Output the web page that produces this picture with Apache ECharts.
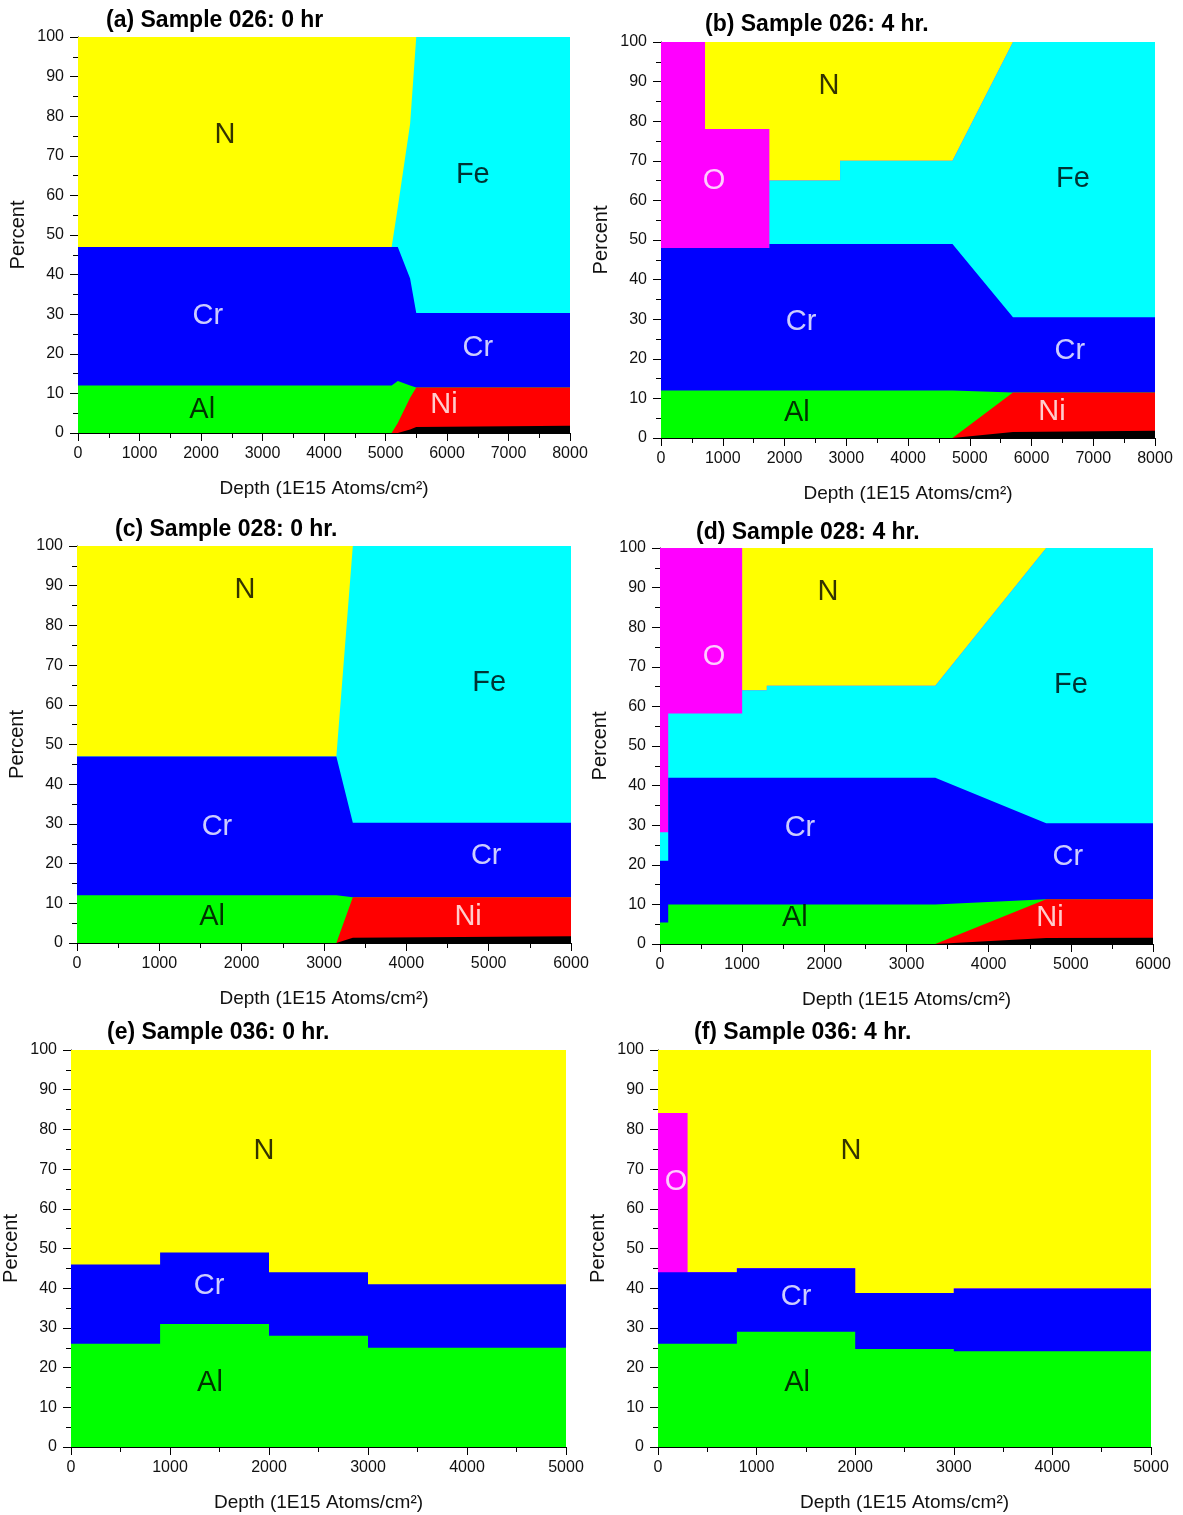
<!DOCTYPE html>
<html><head><meta charset="utf-8">
<script src="https://cdn.jsdelivr.net/npm/echarts@6/dist/echarts.min.js"></script>
<style>html,body{margin:0;padding:0;background:#fff}#c{width:1183px;height:1515px}</style>
</head><body><div id="c"></div>
<script>
// Elements, bottom to top of the stack
const elements = ['Other', 'Ni', 'Al', 'Cr', 'Fe', 'O', 'N'];
const colors = {Other:'#000000', Ni:'#ff0000', Al:'#00ff00', Cr:'#0000ff', Fe:'#00ffff', O:'#ff00ff', N:'#ffff00'};

// (a) Sample 026: 0 hr
const depthA = [0, 5100, 5200, 5400, 5500, 8000];
const otherA = [0, 0, 0, 0.9, 1.5, 1.8];
const niA    = [0, 0, 2.5, 8.0, 10.0, 9.7];
const alA    = [12, 12, 10.6, 3.1, 0, 0];
const crA    = [35, 35, 33.9, 27, 18.8, 18.8];
const feA    = [0, 0, 10, 39, 69.7, 69.7];
const nA     = [53, 53, 43, 22, 0, 0];

// (b) Sample 026: 4 hr.
const depthB = [0, 713, 713, 1755, 1755, 2900, 2900, 4720, 5700, 8000];
const otherB = [0, 0, 0, 0, 0, 0, 0, 0, 1.5, 1.8];
const niB    = [0, 0, 0, 0, 0, 0, 0, 0, 10, 9.7];
const alB    = [12, 12, 12, 12, 12, 12, 12, 12, 0, 0];
const crB    = [36, 36, 36, 36, 37, 37, 37, 37, 19, 19];
const feB    = [0, 0, 0, 0, 16, 16, 21, 21, 69.5, 69.5];
const oB     = [52, 52, 30, 30, 0, 0, 0, 0, 0, 0];
const nB     = [0, 0, 22, 22, 35, 35, 30, 30, 0, 0];

// (c) Sample 028: 0 hr.
const depthC = [0, 3150, 3350, 6000];
const otherC = [0, 0, 1.3, 1.7];
const niC    = [0, 0, 10.2, 9.8];
const alC    = [12, 12, 0, 0];
const crC    = [35, 35, 18.8, 18.8];
const feC    = [0, 0, 69.7, 69.7];
const nC     = [53, 53, 0, 0];

// (d) Sample 028: 4 hr.
const depthD = [0, 100, 100, 1000, 1000, 1300, 1300, 3350, 4700, 6000];
const otherD = [0, 0, 0, 0, 0, 0, 0, 0, 1.5, 1.6];
const niD    = [0, 0, 0, 0, 0, 0, 0, 0, 9.8, 9.7];
const alD    = [5.4, 5.4, 10, 10, 10, 10, 10, 10, 0, 0];
const crD    = [15.6, 15.6, 32, 32, 32, 32, 32, 32, 19.2, 19.2];
const feD    = [7.2, 7.2, 16.2, 16.2, 22.1, 22.1, 23.2, 23.2, 69.5, 69.5];
const oD     = [71.8, 71.8, 41.8, 41.8, 0, 0, 0, 0, 0, 0];
const nD     = [0, 0, 0, 0, 35.9, 35.9, 34.8, 34.8, 0, 0];

// (e) Sample 036: 0 hr.
const depthE = [0, 900, 900, 2000, 2000, 3000, 3000, 5000];
const alE    = [26, 26, 31, 31, 28, 28, 25, 25];
const crE    = [20, 20, 18, 18, 16, 16, 16, 16];
const nE     = [54, 54, 51, 51, 56, 56, 59, 59];

// (f) Sample 036: 4 hr.
const depthF = [0, 300, 300, 800, 800, 2000, 2000, 3000, 3000, 5000];
const alF    = [26, 26, 26, 26, 29, 29, 24.7, 24.7, 24.1, 24.1];
const crF    = [18, 18, 18, 18, 16, 16, 14.1, 14.1, 15.8, 15.8];
const oF     = [40.1, 40.1, 0, 0, 0, 0, 0, 0, 0, 0];
const nF     = [15.9, 15.9, 56, 56, 55, 55, 61.2, 61.2, 60.1, 60.1];

// Region labels: [text, depth, percent, colour]
const labelsA = [['N',2390,75.3,'#000'],['Fe',6420,65.2,'#000'],['Cr',2110,29.5,'#fff'],['Cr',6500,21.5,'#fff'],['Al',2020,5.8,'#000'],['Ni',5950,7.1,'#fff']];
const labelsB = [['O',860,64.9,'#fff'],['N',2720,88.9,'#000'],['Fe',6670,65.4,'#000'],['Cr',2270,29.3,'#fff'],['Cr',6620,22,'#fff'],['Al',2200,6.3,'#000'],['Ni',6330,6.6,'#fff']];
const labelsC = [['N',2040,88.9,'#000'],['Fe',5006,65.5,'#000'],['Cr',1700,29.2,'#fff'],['Cr',4970,21.9,'#fff'],['Al',1640,6.5,'#000'],['Ni',4750,6.5,'#fff']];
const labelsD = [['O',657,72.5,'#fff'],['N',2044,88.9,'#000'],['Fe',5000,65.4,'#000'],['Cr',1703,29.3,'#fff'],['Cr',4964,22,'#fff'],['Al',1642,6.6,'#000'],['Ni',4745,6.6,'#fff']];
const labelsE = [['N',1950,74.6,'#000'],['Cr',1394,40.6,'#fff'],['Al',1404,16.1,'#000']];
const labelsF = [['O',183,66.8,'#fff'],['N',1957,74.6,'#000'],['Cr',1400,37.8,'#fff'],['Al',1410,16.1,'#000']];

const panels = [
  {title:'(a) Sample 026: 0 hr',  depth:depthA, values:{Other:otherA,Ni:niA,Al:alA,Cr:crA,Fe:feA,N:nA}, xMax:8000, grid:{left:78,top:37,width:492,height:396},  tpos:{left:106,top:9},    labels:labelsA},
  {title:'(b) Sample 026: 4 hr.', depth:depthB, values:{Other:otherB,Ni:niB,Al:alB,Cr:crB,Fe:feB,O:oB,N:nB}, xMax:8000, grid:{left:661,top:42,width:494,height:396}, tpos:{left:705,top:13}, labels:labelsB},
  {title:'(c) Sample 028: 0 hr.', depth:depthC, values:{Other:otherC,Ni:niC,Al:alC,Cr:crC,Fe:feC,N:nC}, xMax:6000, grid:{left:77,top:546,width:494,height:397}, tpos:{left:115,top:518},  labels:labelsC},
  {title:'(d) Sample 028: 4 hr.', depth:depthD, values:{Other:otherD,Ni:niD,Al:alD,Cr:crD,Fe:feD,O:oD,N:nD}, xMax:6000, grid:{left:660,top:548,width:493,height:396}, tpos:{left:696,top:521}, labels:labelsD},
  {title:'(e) Sample 036: 0 hr.', depth:depthE, values:{Al:alE,Cr:crE,N:nE}, xMax:5000, grid:{left:71,top:1050,width:495,height:397}, tpos:{left:107,top:1021}, labels:labelsE},
  {title:'(f) Sample 036: 4 hr.', depth:depthF, values:{Al:alF,Cr:crF,O:oF,N:nF}, xMax:5000, grid:{left:658,top:1050,width:493,height:397}, tpos:{left:694,top:1021}, labels:labelsF}
];

const FONT = '"Liberation Sans", Arial, sans-serif';
const option = {animation:false, backgroundColor:'#fff', title:[], grid:[], xAxis:[], yAxis:[], series:[]};

panels.forEach((p, gi) => {
  option.title.push({text:p.title, left:p.tpos.left, top:p.tpos.top, padding:0,
    textStyle:{fontFamily:FONT, fontWeight:'bold', fontSize:23, color:'#000'}});
  option.grid.push(Object.assign({containLabel:false}, p.grid));
  const axisCommon = {
    axisLine:{show:true, onZero:false, lineStyle:{color:'#000', width:1}},
    axisTick:{show:true, inside:false, length:8, lineStyle:{color:'#000'}},
    minorTick:{show:true, splitNumber:2, length:5, lineStyle:{color:'#000'}},
    splitLine:{show:false}, minorSplitLine:{show:false},
    nameTextStyle:{fontFamily:FONT, fontSize:19, color:'#111'}
  };
  option.xAxis.push(Object.assign({}, axisCommon, {
    type:'value', gridIndex:gi, min:0, max:p.xMax, interval:1000,
    name:'Depth (1E15 Atoms/cm\u00B2)', nameLocation:'middle', nameGap:46,
    axisLabel:{fontFamily:FONT, fontSize:16, color:'#111', margin:13, formatter:v => String(v), showMaxLabel:true, showMinLabel:true}
  }));
  option.yAxis.push(Object.assign({}, axisCommon, {
    type:'value', gridIndex:gi, min:0, max:100, interval:10,
    name:'Percent', nameLocation:'middle', nameGap:50, nameRotate:90,
    nameTextStyle:{fontFamily:FONT, fontSize:20, color:'#111'},
    axisLabel:{fontFamily:FONT, fontSize:16, color:'#111', margin:14, formatter:v => String(v), showMaxLabel:true, showMinLabel:true}
  }));
  // cumulative tops, bottom to top
  const present = elements.filter(e => p.values[e]);
  const cum = p.depth.map(() => 0);
  const tops = {};
  present.forEach(e => {
    const vals = p.values[e];
    tops[e] = vals.map((v, i) => { cum[i] += v; return +cum[i].toFixed(3); });
  });
  // draw upper layers first, lower layers painted over them
  present.slice().reverse().forEach(e => {
    option.series.push({
      type:'line', name:e, xAxisIndex:gi, yAxisIndex:gi, silent:true,
      symbol:'none', showSymbol:false,
      lineStyle:{width:0, opacity:0},
      areaStyle:{color:colors[e], opacity:1},
      data:p.depth.map((d, i) => [d, tops[e][i]])
    });
  });
  option.series.push({
    type:'scatter', xAxisIndex:gi, yAxisIndex:gi, silent:true, symbolSize:0, z:10,
    data:p.labels.map(l => ({name:l[0], value:[l[1], l[2]],
      label:{show:true, position:'inside', formatter:'{b}', color:l[3], fontFamily:FONT, fontSize:29}}))
  });
});

const chart = echarts.init(document.getElementById('c'), null, {renderer:'canvas'});
chart.setOption(option);
</script>
</body></html>
